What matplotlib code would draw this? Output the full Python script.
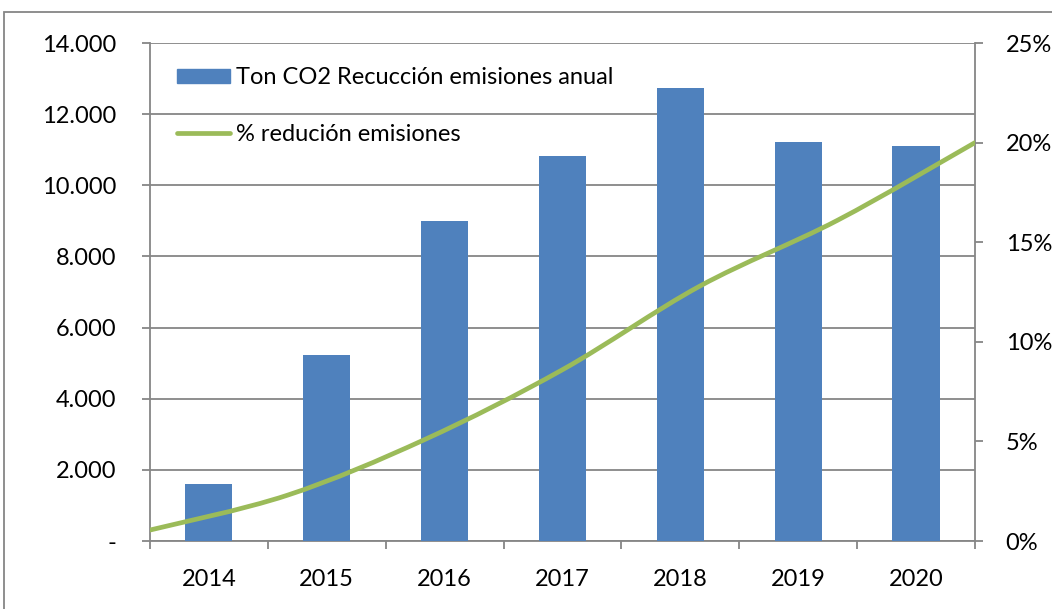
import numpy as np
import matplotlib
matplotlib.use("Agg")
import matplotlib.pyplot as plt
from matplotlib.path import Path
from matplotlib.patches import PathPatch, Rectangle
from matplotlib.lines import Line2D
from matplotlib.ticker import FuncFormatter, FixedLocator

plt.rcParams['font.family'] = ['Lato', 'DejaVu Sans']

years = ['2014', '2015', '2016', '2017', '2018', '2019', '2020']
ton_co2 = [1610, 5240, 9010, 10820, 12730, 11210, 11100]
pct_reduccion = [0.55, 2.3, 5.1, 8.6, 12.8, 16.1, 20.0]

bar_color = '#4F81BD'
line_color = '#9BBB59'
grid_color = '#868686'
fs = 17

fig = plt.figure(figsize=(10.52, 6.09), dpi=100)
ax = fig.add_axes([150 / 1052, 68 / 609, 825 / 1052, 498 / 609])
ax2 = ax.twinx()

x = np.arange(len(years))
ax.bar(x, ton_co2, width=0.4, color=bar_color, zorder=3)
ax.set_xlim(-0.5, len(years) - 0.5)
ax.set_ylim(0, 14000)
ax.set_yticks(np.arange(0, 14001, 2000))
ax.yaxis.set_major_formatter(FuncFormatter(
    lambda v, p: '-' if v == 0 else f'{int(v):,}'.replace(',', '.')))
ax.grid(axis='y', color=grid_color, linewidth=1.3, zorder=0)
ax.set_axisbelow(True)

ax.set_xticks(x)
ax.set_xticklabels(years)
ax.xaxis.set_minor_locator(FixedLocator(np.arange(-0.5, len(years), 1.0)))
ax.tick_params(axis='x', which='major', length=0, pad=20, labelsize=fs)
ax.tick_params(axis='x', which='minor', length=6, width=1.3, color=grid_color)
ax.tick_params(axis='y', length=6, width=1.3, color=grid_color, pad=18, labelsize=fs)

for s in ['top', 'right']:
    ax.spines[s].set_visible(False)
for s in ['left', 'bottom']:
    ax.spines[s].set_color(grid_color)
    ax.spines[s].set_linewidth(1.3)

# secondary axis: smoothed line from left edge to right edge
ax2.set_ylim(0, 25)
ax2.set_yticks(np.arange(0, 26, 5))
ax2.yaxis.set_major_formatter(FuncFormatter(lambda v, p: f'{int(v)}%'))
ax2.tick_params(axis='y', length=6, width=1.3, color=grid_color, pad=16, labelsize=fs)
for s in ['top', 'left', 'bottom']:
    ax2.spines[s].set_visible(False)
ax2.spines['right'].set_color(grid_color)
ax2.spines['right'].set_linewidth(1.3)

lx = np.linspace(-0.5, len(years) - 0.5, len(pct_reduccion))
pts = np.column_stack([lx, pct_reduccion])
verts = [pts[0]]
codes = [Path.MOVETO]
n = len(pts)
for i in range(n - 1):
    p0 = pts[max(i - 1, 0)]
    p1 = pts[i]
    p2 = pts[i + 1]
    p3 = pts[min(i + 2, n - 1)]
    c1 = p1 + (p2 - p0) / 6
    c2 = p2 - (p3 - p1) / 6
    verts += [c1, c2, p2]
    codes += [Path.CURVE4] * 3
ax2.add_patch(PathPatch(Path(verts, codes), fill=False, edgecolor=line_color,
                        linewidth=3.4, capstyle='round', zorder=4))

handles = [Rectangle((0, 0), 1, 1, color=bar_color),
           Line2D([0], [0], color=line_color, linewidth=3.4, solid_capstyle='round')]
labels = ['Ton CO2 Recucción emisiones anual', '% redución emisiones']
ax2.legend(handles, labels, loc='upper left', bbox_to_anchor=(0.021, 0.97),
           frameon=False, fontsize=fs, handlelength=2.25, handleheight=0.5,
           handletextpad=0.25, labelspacing=1.5, borderaxespad=0)

# chart outer frame
fig.add_artist(Rectangle((4 / 1052, -0.1), 1.2, (609 - 12) / 609 + 0.1,
                         transform=fig.transFigure, fill=False,
                         edgecolor=grid_color, linewidth=1.3))

fig.savefig('out.png', dpi=100)
